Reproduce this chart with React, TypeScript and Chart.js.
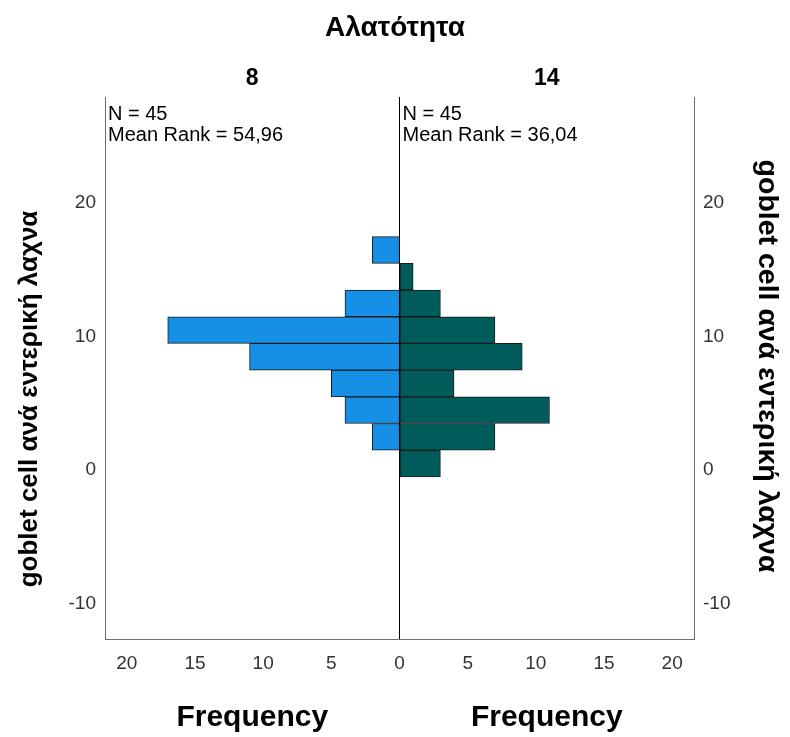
import React, { useEffect, useRef } from 'react';
import { Chart, registerables } from 'chart.js';

Chart.register(...registerables);

// ---- data ----
const binCenters = [0.5, 2.5, 4.5, 6.5, 8.5, 10.5, 12.5, 14.5, 16.5];
const countsGroup8 = [0, 2, 4, 5, 11, 17, 4, 0, 2];
const countsGroup14 = [3, 7, 11, 4, 9, 7, 3, 1, 0];
const groupLabels = ['8', '14'];
const groupN = [45, 45];
const meanRanks = ['54,96', '36,04'];
const freqTicks = [0, 5, 10, 15, 20];
const valueTicks = [-10, 0, 10, 20];
const mainTitle = 'Αλατότητα';
const valueTitle = 'goblet cell ανά εντερική λαχνα';
const freqTitle = 'Frequency';

const FONT = '"Liberation Sans", Arial, sans-serif';

const toPoints = (counts: number[]) =>
  binCenters.map((b, i) => ({ x: counts[i] > 0 ? counts[i] : null, y: b }));

const textPlugin = {
  id: 'textPlugin',
  afterDraw(chart: any) {
    const { ctx, chartArea, scales } = chart;
    const mid = scales.xR.left;
    ctx.save();
    ctx.fillStyle = '#000';
    ctx.font = `20px ${FONT}`;
    ctx.textAlign = 'left';
    ctx.textBaseline = 'alphabetic';
    [chartArea.left, mid].forEach((x0: number, i: number) => {
      ctx.fillText(`N = ${groupN[i]}`, x0 + 3, chartArea.top + 23);
      ctx.fillText(`Mean Rank = ${meanRanks[i]}`, x0 + 3, chartArea.top + 44);
    });
    const cy = (chartArea.top + chartArea.bottom) / 2;
    ctx.textAlign = 'center';
    ctx.textBaseline = 'middle';
    ctx.font = `bold 26px ${FONT}`;
    ctx.save();
    ctx.translate(chartArea.left - 75, cy + 31);
    ctx.rotate(-Math.PI / 2);
    ctx.fillText(valueTitle, 0, 0);
    ctx.restore();
    ctx.font = `bold 28.5px ${FONT}`;
    ctx.save();
    ctx.translate(chartArea.right + 73, cy - 2);
    ctx.rotate(Math.PI / 2);
    ctx.fillText(valueTitle, 0, 0);
    ctx.restore();
    ctx.restore();
  },
};

export default function App() {
  const ref = useRef<HTMLCanvasElement | null>(null);

  useEffect(() => {
    if (!ref.current) return;
    const frame = '#6e6e6e';
    const tickColor = '#333';
    const commonX = (reverse: boolean, id: string) => ({
      type: 'linear' as const,
      position: 'bottom' as const,
      stack: 'freq',
      stackWeight: 1,
      reverse,
      min: 0,
      max: 21.6,
      offset: false,
      afterBuildTicks: (axis: any) => {
        axis.ticks = freqTicks.map((v) => ({ value: v }));
      },
      afterFit: (axis: any) => {
        axis.height = 98;
      },
      ticks: {
        color: tickColor,
        font: { size: 19, family: FONT },
        padding: 13,
        maxRotation: 0,
        autoSkip: false,
        callback: (v: any) => (id === 'xR' && v === 0 ? '' : String(v)),
      },
      grid:
        id === 'xR'
          ? {
              display: true,
              drawTicks: false,
              color: (c: any) => (c.tick && c.tick.value === 0 ? '#000' : 'rgba(0,0,0,0)'),
            }
          : { display: false, drawTicks: false },
      border: { display: true, color: frame, width: 1 },
      title: {
        display: true,
        text: freqTitle,
        color: '#000',
        font: { size: 30, weight: 'bold' as const, family: FONT },
        padding: { top: 0, bottom: 1 },
      },
    });
    const commonTop = (label: string) => ({
      type: 'linear' as const,
      position: 'top' as const,
      stack: 'groups',
      stackWeight: 1,
      min: 0,
      max: 1,
      afterFit: (axis: any) => {
        axis.height = 52.4;
      },
      ticks: { display: false },
      grid: { display: false, drawTicks: false },
      border: { display: false },
      title: {
        display: true,
        text: label,
        color: '#000',
        font: { size: 23, weight: 'bold' as const, family: FONT },
        padding: { top: 20, bottom: 0 },
      },
    });
    const commonY = (position: 'left' | 'right', width: number) => ({
      type: 'linear' as const,
      position,
      min: -12.64,
      max: 27.96,
      offset: false,
      afterBuildTicks: (axis: any) => {
        axis.ticks = valueTicks.map((v) => ({ value: v }));
      },
      afterFit: (axis: any) => {
        axis.width = width;
      },
      ticks: {
        color: tickColor,
        font: { size: 19, family: FONT },
        padding: 9,
        autoSkip: false,
      },
      grid: { display: false, drawTicks: false, offset: false },
      border: { display: true, color: frame, width: 1 },
      title: { display: false },
    });

    const chart = new Chart(ref.current, {
      type: 'bar',
      data: {
        datasets: [
          {
            label: groupLabels[0],
            data: toPoints(countsGroup8) as any,
            xAxisID: 'xL',
            yAxisID: 'y',
            backgroundColor: '#1590e6',
            borderColor: '#1a1a1a',
            borderWidth: 1,
            borderSkipped: false,
            grouped: false,
            categoryPercentage: 1,
            barPercentage: 1,
          },
          {
            label: groupLabels[1],
            data: toPoints(countsGroup14) as any,
            xAxisID: 'xR',
            yAxisID: 'y',
            backgroundColor: '#005c5b',
            borderColor: '#1a1a1a',
            borderWidth: 1,
            borderSkipped: false,
            grouped: false,
            categoryPercentage: 1,
            barPercentage: 1,
          },
        ],
      },
      options: {
        indexAxis: 'y',
        animation: false,
        responsive: false,
        devicePixelRatio: 1,
        layout: { padding: 0 },
        font: { family: FONT },
        scales: {
          y: commonY('left', 105),
          yR: commonY('right', 96),
          xL: commonX(true, 'xL'),
          xR: commonX(false, 'xR'),
          // top stacked boxes are laid out in reverse order
          tR: commonTop(groupLabels[1]),
          tL: commonTop(groupLabels[0]),
        } as any,
        plugins: {
          legend: { display: false },
          tooltip: { enabled: false },
          title: {
            display: true,
            text: mainTitle,
            color: '#000',
            font: { size: 28, weight: 'bold', family: FONT },
            padding: { top: 11, bottom: 0 },
          },
        },
      },
      plugins: [textPlugin],
    });
    return () => chart.destroy();
  }, []);

  return (
    <div style={{ position: 'absolute', left: 0, top: 0, width: 790, height: 737, background: '#fff' }}>
      <canvas ref={ref} width={790} height={737} style={{ width: 790, height: 737, display: 'block' }} />
    </div>
  );
}
